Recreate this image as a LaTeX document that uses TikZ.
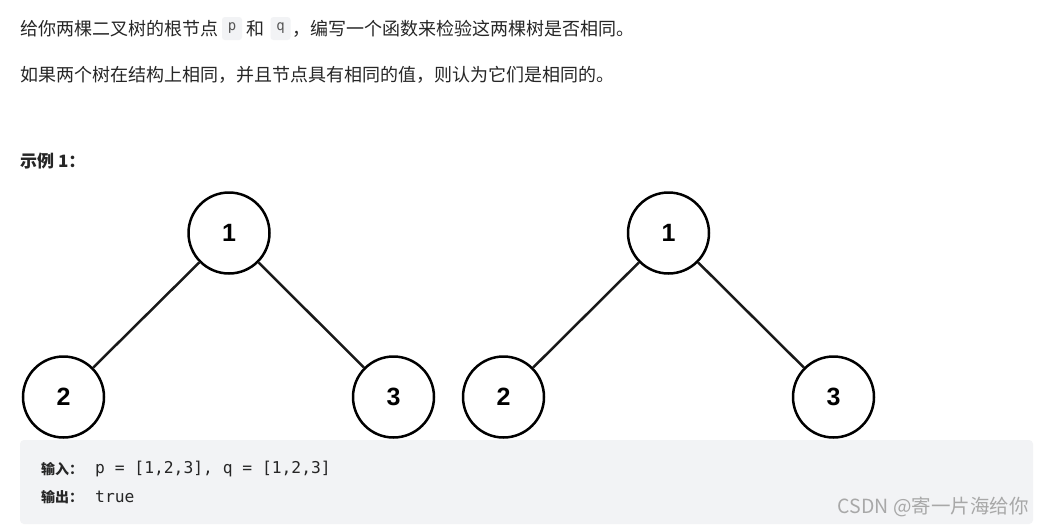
\documentclass[tikz,border=0pt]{standalone}
\usepackage{fontspec}
\setmainfont{Noto Sans CJK SC}
\setmonofont{DejaVu Sans Mono}
\newfontfamily\numfont{Liberation Sans}
\definecolor{txt}{HTML}{262626}
\definecolor{codebg}{HTML}{F2F3F5}
\definecolor{codetxt}{HTML}{555555}
\definecolor{wm}{HTML}{A8A8A8}
\tikzset{
  body/.style={anchor=west, inner sep=0pt, text=txt, font=\fontsize{18}{20}\selectfont},
  codechip/.style={fill=codebg, rounded corners=3pt, minimum width=20pt, minimum height=23pt, inner sep=0pt, text=codetxt, font=\ttfamily\fontsize{14}{16}\selectfont},
  treenode/.style={circle, draw=black, line width=2.5pt, fill=white, minimum size=81pt, inner sep=0pt, font=\numfont\bfseries\fontsize{25}{28}\selectfont},
  edge/.style={line width=2.5pt, draw=black!90},
  boxcjk/.style={anchor=west, inner sep=0pt, text=txt, font=\bfseries\fontsize{14}{16}\selectfont},
  boxmono/.style={anchor=west, inner sep=0pt, text=txt, font=\ttfamily\fontsize{16.3}{18}\selectfont},
}
\begin{document}
\begin{tikzpicture}[x=1pt, y=-1pt]
\useasboundingbox (0,0) rectangle (1044,525);
\fill[white] (0,0) rectangle (1044,525);
% intro text
\node[body] (t1) at (20,29) {给你两棵二叉树的根节点};
\node[codechip] (cp) at (232,28.5) {p};
\node[body] (he) at (246,29) {和};
\node[codechip] (cq) at (280.5,28.5) {q};
\node[body] (t2) at (292,29) {，编写一个函数来检验这两棵树是否相同。};
\node[body] (t3) at (20,75) {如果两个树在结构上相同，并且节点具有相同的值，则认为它们是相同的。};
\node[body, font=\bfseries\fontsize{17}{19}\selectfont] (ex) at (20,161) {示例 1：};
% code box
\fill[codebg, rounded corners=4pt] (20,440) rectangle (1033,524);
% trees
\node[treenode] (a1) at (229,233) {1};
\node[treenode] (a2) at (63.5,397) {2};
\node[treenode] (a3) at (393.5,397) {3};
\node[treenode] (b1) at (668.5,233) {1};
\node[treenode] (b2) at (503.5,397) {2};
\node[treenode] (b3) at (833.5,397) {3};
\draw[edge] (a1) -- (a2);
\draw[edge] (a1) -- (a3);
\draw[edge] (b1) -- (b2);
\draw[edge] (b1) -- (b3);
% box text
\node[boxcjk] (in) at (41,469) {输入：};
\node[boxmono] (inv) at (95,469) {p = [1,2,3], q = [1,2,3]};
\node[boxcjk] (out) at (41,497) {输出：};
\node[boxmono] (outv) at (95,497) {true};
\node[anchor=east, inner sep=0pt, text=wm, font=\fontsize{19.5}{22}\selectfont] (wmk) at (1029,507) {CSDN @寄一片海给你};
\end{tikzpicture}
\end{document}
